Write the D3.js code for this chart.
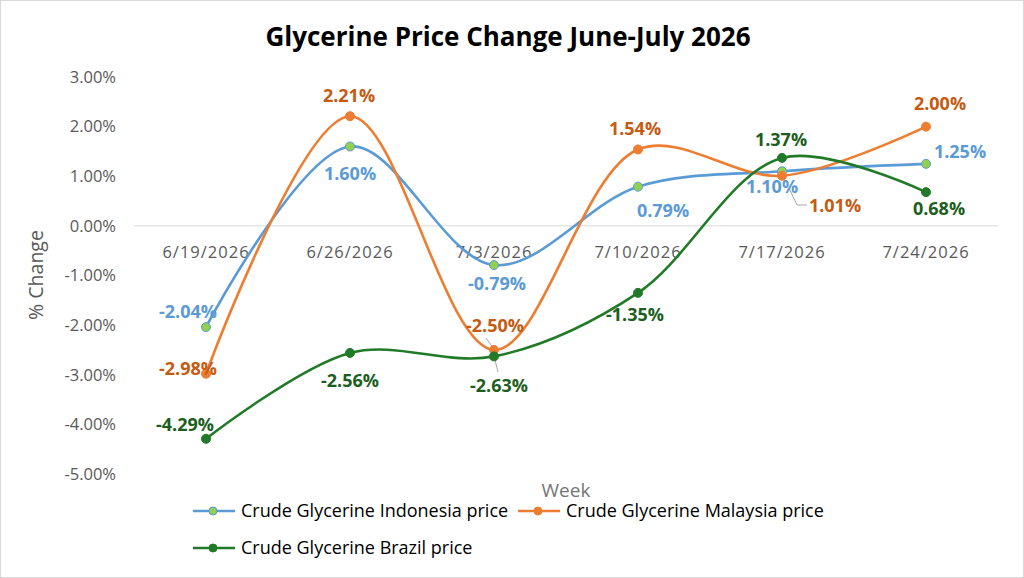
<!DOCTYPE html>
<html><head><meta charset="utf-8">
<script src="https://cdn.jsdelivr.net/npm/d3@7"></script>
<style>html,body{margin:0;padding:0;background:#fff}svg{display:block}</style>
</head><body><svg id="c" width="1024" height="578"></svg>
<script>
const weeks = ["6/19/2026","6/26/2026","7/3/2026","7/10/2026","7/17/2026","7/24/2026"];
const indonesia = [-2.04, 1.60, -0.79, 0.79, 1.10, 1.25];
const malaysia  = [-2.98, 2.21, -2.50, 1.54, 1.01, 2.00];
const brazil    = [-4.29, -2.56, -2.63, -1.35, 1.37, 0.68];
const yTicks = [3,2,1,0,-1,-2,-3,-4,-5];
const seriesNames = ["Crude Glycerine Indonesia price","Crude Glycerine Malaysia price","Crude Glycerine Brazil price"];

// label placement offsets (dx, dy from point to label centre) - layout only
const labelOffsets = [
  [[-18,-15],[0,27],[3,19],[25,24],[-10,15],[34,-12]],
  [[-18,-5],[-1,-21],[1,-24],[-3,-21],[53,30],[14,-23]],
  [[-21,-14],[0,28],[5,29],[-3,22],[-1,-18],[13,17]]
];

const W = 1024, H = 578;
const svg = d3.select("#c");
svg.append("rect").attr("x",0.5).attr("y",0.5).attr("width",W-1).attr("height",H-1)
  .attr("fill","#fff").attr("stroke","#d9d9d9");

const x = d3.scaleBand().domain(weeks).range([134, 998]);
const y = d3.scaleLinear().domain([-5, 3]).range([474, 77]);
const cx = d => x(d) + x.bandwidth()/2;
const pct = d => d.toFixed(2) + "%";

const font = "'Open Sans', sans-serif";

svg.append("text").attr("x", 508).attr("y", 46).attr("text-anchor","middle")
  .attr("font-family", font).attr("font-weight","bold").attr("font-size", 26)
  .attr("fill","#000").text("Glycerine Price Change June-July 2026");

// y axis (labels only)
const yAxis = d3.axisLeft(y).tickValues(yTicks).tickSize(0).tickPadding(0).tickFormat(pct);
const gy = svg.append("g").attr("transform","translate(116,0)").call(yAxis);
gy.select(".domain").remove();
gy.selectAll("text").attr("font-family", font).attr("font-size", 16.5).attr("fill","#595959");

// zero line
svg.append("line").attr("x1",134).attr("x2",998).attr("y1",y(0)).attr("y2",y(0))
  .attr("stroke","#d9d9d9").attr("stroke-width",1);

// x axis labels
const xAxis = d3.axisBottom(x).tickSize(0).tickPadding(0);
const gx = svg.append("g").attr("transform",`translate(0,${y(0)+32})`).call(xAxis);
gx.select(".domain").remove();
gx.selectAll("text").attr("font-family", font).attr("font-size", 16.5).attr("letter-spacing", "1px")
  .attr("fill","#595959").attr("dy","0");

svg.append("text").attr("transform","translate(43,275) rotate(-90)").attr("text-anchor","middle")
  .attr("font-family", font).attr("font-size", 19.5).attr("fill","#595959").text("% Change");
svg.append("text").attr("x",566).attr("y",497).attr("text-anchor","middle")
  .attr("font-family", font).attr("font-size", 19).attr("fill","#757575").text("Week");

const series = [
  {vals: indonesia, line:"#5B9BD5", fill:"#92D050", label:"#5B9BD5"},
  {vals: malaysia,  line:"#ED7D31", fill:"#ED7D31", label:"#C55A11"},
  {vals: brazil,    line:"#217A27", fill:"#217A27", label:"#1C5E20"}
];

const lineGen = d3.line().x((d,i)=>cx(weeks[i])).y(d=>y(d)).curve(d3.curveCatmullRom.alpha(0.5));

series.forEach((s) => {
  svg.append("path").attr("d", lineGen(s.vals)).attr("fill","none")
    .attr("stroke", s.line).attr("stroke-width", 2.6);
});

// leader lines
const leaders = [
  [[494,349],[486,338]],
  [[494,356],[498,372]],
  [[789,188],[797,205],[807,205]]
];
leaders.forEach(l => {
  svg.append("polyline").attr("points", l.map(p=>p.join(",")).join(" "))
    .attr("fill","none").attr("stroke","#a6a6a6").attr("stroke-width",1);
});

series.forEach((s) => {
  svg.append("g").selectAll("circle").data(s.vals).join("circle")
    .attr("cx",(d,i)=>cx(weeks[i])).attr("cy",d=>y(d)).attr("r",4.5)
    .attr("fill", s.fill).attr("stroke", s.line).attr("stroke-width", 1);
});

series.forEach((s, si) => {
  svg.append("g").selectAll("text").data(s.vals).join("text")
    .attr("x",(d,i)=>cx(weeks[i]) + labelOffsets[si][i][0])
    .attr("y",(d,i)=>y(d) + labelOffsets[si][i][1])
    .attr("dy","0.35em").attr("text-anchor","middle")
    .attr("font-family", font).attr("font-weight","bold").attr("font-size", 18)
    .attr("fill", s.label).text(pct);
});

// legend
const legendPos = [[193,511],[518,511],[193,548]];
series.forEach((s, si) => {
  const [lx, ly] = legendPos[si];
  const g = svg.append("g");
  g.append("line").attr("x1",lx).attr("x2",lx+42).attr("y1",ly).attr("y2",ly)
    .attr("stroke", s.line).attr("stroke-width",2.6);
  g.append("circle").attr("cx",lx+20).attr("cy",ly).attr("r",4)
    .attr("fill", s.fill).attr("stroke", s.line).attr("stroke-width",1);
  g.append("text").attr("x",lx+48).attr("y",ly).attr("dy","0.35em")
    .attr("font-family", font).attr("font-size", 18).attr("fill","#000").text(seriesNames[si]);
});
</script></body></html>
